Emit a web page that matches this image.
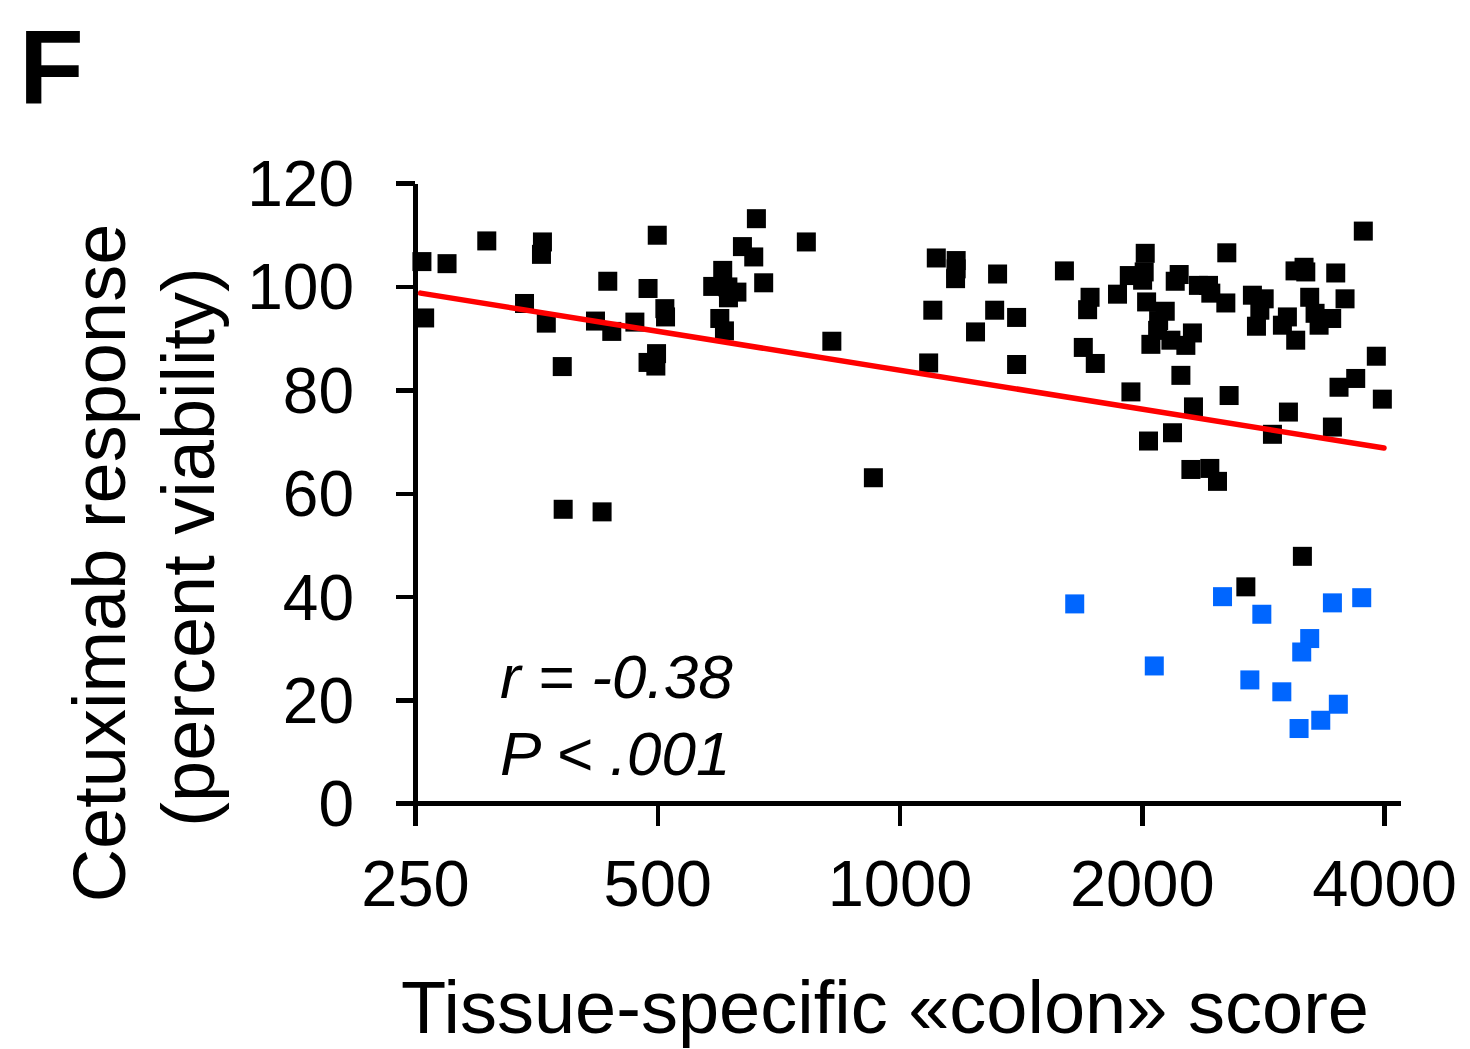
<!DOCTYPE html>
<html lang="en">
  <head>
    <meta charset="UTF-8" />
    <title>cetuximab response vs colon score</title>
    <style type="text/css">
      html,
      body {
        margin: 0;
        padding: 0;
        background: #fff;
      }

      svg text {
        font-family: "Liberation Sans", Arial, Helvetica, sans-serif;
        fill: #000;
      }

      .axis path,
      .axis line {
        stroke: #000;
        stroke-width: 4.5px;
        shape-rendering: crispEdges;
      }
    </style>
  </head>
  <body>
    <svg id="chart"></svg>

    <script src="https://cdn.jsdelivr.net/npm/d3@7"></script>
    <script>
      // === Data === //

      // black: cell lines, [colon score, percent viability]
      var blackScore = [
        255, 274, 307, 360, 359, 342, 257, 364, 381, 434, 419, 439, 469, 487,
        500, 511, 512, 499, 487, 498, 382, 427, 664, 638, 659, 678, 766, 603,
        586, 612, 628, 613, 598, 606, 824, 1111, 1176, 1176, 1174, 1324, 1603,
        1725, 1713, 1866, 1100, 1313, 1398, 1243, 1692, 1751, 1087, 1398, 928,
        2020, 2014, 1930, 2005, 2551, 3770, 2226, 2201, 2352, 2421, 2437, 2544,
        2028, 2139, 2099, 2093, 2053, 2174, 2269, 2312, 1939, 2237, 2319, 2039,
        2184, 2568, 2302, 2430, 2484, 2745, 2839, 2804, 2777, 3034, 2991, 3107,
        3101, 3182, 3198, 3484, 3234, 3284, 3322, 3444, 3578, 3913, 3689, 3517,
        3981, 3043, 3451, 2907, 3167, 2694
      ];
      var blackViability = [
        104.8, 104.4, 108.8, 108.6, 106.2, 96.7, 93.9, 92.9, 84.5, 101.0, 93.3,
        91.3, 93.1, 99.6, 109.9, 95.7, 94.1, 87.0, 85.3, 84.6, 56.9, 56.4, 113.1,
        107.7, 105.7, 100.7, 108.6, 103.1, 100.0, 99.9, 98.9, 97.8, 93.8, 91.4,
        89.4, 105.5, 105.0, 103.4, 101.5, 102.4, 103.0, 97.9, 95.5, 98.5, 95.4,
        95.4, 94.0, 91.2, 88.2, 85.1, 85.2, 84.9, 63.0, 106.4, 102.8, 102.1,
        101.2, 106.5, 110.7, 102.3, 101.0, 100.2, 100.2, 98.7, 96.8, 97.0, 95.2,
        93.4, 91.5, 88.8, 89.6, 88.6, 91.0, 79.6, 82.8, 76.7, 70.1, 71.7, 78.9,
        64.6, 64.8, 62.3, 98.3, 97.6, 95.4, 92.3, 94.1, 92.5, 89.6, 103.0, 103.7,
        102.8, 102.6, 97.9, 94.8, 92.5, 93.8, 97.6, 86.5, 82.2, 80.5, 78.2, 75.7,
        72.8, 71.4, 47.8, 41.9
      ];

      // blue: responders
      var blueScore = [
        1651, 2073, 2520, 2820, 3451, 3753, 3234, 3161, 2725, 2986, 3510, 3338,
        3137
      ];
      var blueViability = [
        38.6, 26.6, 40.0, 36.6, 38.8, 39.8, 31.9, 29.3, 23.9, 21.6, 19.2, 16.1,
        14.5
      ];

      // regression line end points
      var fitScore = [254, 4000];
      var fitViability = [98.7, 68.75];

      var xTicks = [250, 500, 1000, 2000, 4000];
      var yTicks = [0, 20, 40, 60, 80, 100, 120];

      var statLines = ["r = -0.38", "P < .001"];

      // === Set up === //

      var width = 1470,
        height = 1049;

      var svg = d3
        .select("#chart")
        .attr("width", width)
        .attr("height", height);

      var x = d3
        .scaleLog()
        .base(2)
        .domain([250, 4000])
        .range([415, 1384]);

      var y = d3
        .scaleLinear()
        .domain([0, 120])
        .range([803.5, 183]);

      var markSize = 19;

      // === Axes === //

      var yAxis = svg
        .append("g")
        .attr("class", "axis")
        .attr("transform", "translate(" + x(250) + ",0)")
        .call(
          d3
            .axisLeft(y)
            .tickValues(yTicks)
            .tickSize(19)
            .tickSizeOuter(0)
            .tickPadding(42)
        );

      yAxis
        .selectAll("text")
        .style("font-size", "64px")
        .attr("dy", "0.35em");

      var xAxis = svg
        .append("g")
        .attr("class", "axis")
        .attr("transform", "translate(0," + y(0) + ")")
        .call(
          d3
            .axisBottom(x)
            .tickValues(xTicks)
            .tickFormat(d3.format("d"))
            .tickSize(22)
            .tickSizeOuter(0)
            .tickPadding(34)
        );

      xAxis.select(".domain").remove();
      xAxis
        .append("line")
        .attr("x1", x(250) - 19)
        .attr("x2", x(4000) + 17)
        .attr("y1", 0)
        .attr("y2", 0);

      xAxis.selectAll("text").style("font-size", "65px");

      // === Points === //

      var black = blackScore.map(function(d, i) {
        return { score: d, viab: blackViability[i] };
      });
      var blue = blueScore.map(function(d, i) {
        return { score: d, viab: blueViability[i] };
      });

      function drawSquares(data, colour) {
        svg
          .append("g")
          .selectAll("rect")
          .data(data)
          .enter()
          .append("rect")
          .attr("x", function(d) {
            return x(d.score) - markSize / 2;
          })
          .attr("y", function(d) {
            return y(d.viab) - markSize / 2;
          })
          .attr("width", markSize)
          .attr("height", markSize)
          .attr("fill", colour);
      } // drawSquares()

      drawSquares(black, "#000");
      drawSquares(blue, "#0066ff");

      // === Regression line === //

      svg
        .append("line")
        .attr("x1", x(fitScore[0]))
        .attr("y1", y(fitViability[0]))
        .attr("x2", x(fitScore[1]))
        .attr("y2", y(fitViability[1]))
        .attr("stroke", "#ff0000")
        .attr("stroke-width", 5.5)
        .attr("stroke-linecap", "round");

      // === Text === //

      svg
        .append("text")
        .attr("x", 19)
        .attr("y", 104)
        .style("font-size", "106px")
        .style("font-weight", "bold")
        .text("F");

      svg
        .selectAll("text.stat")
        .data(statLines)
        .enter()
        .append("text")
        .attr("class", "stat")
        .attr("x", 500)
        .attr("y", function(d, i) {
          return 698 + i * 77;
        })
        .style("font-size", "62px")
        .style("font-style", "italic")
        .text(function(d) {
          return d;
        });

      svg
        .append("text")
        .attr("transform", "translate(125,563) rotate(-90)")
        .attr("text-anchor", "middle")
        .style("font-size", "74px")
        .text("Cetuximab response");

      svg
        .append("text")
        .attr("transform", "translate(214,547) rotate(-90)")
        .attr("text-anchor", "middle")
        .style("font-size", "74px")
        .text("(percent viability)");

      svg
        .append("text")
        .attr("x", 885)
        .attr("y", 1033)
        .attr("text-anchor", "middle")
        .style("font-size", "74px")
        .text("Tissue-specific \u00abcolon\u00bb score");
    </script>
  </body>
</html>
